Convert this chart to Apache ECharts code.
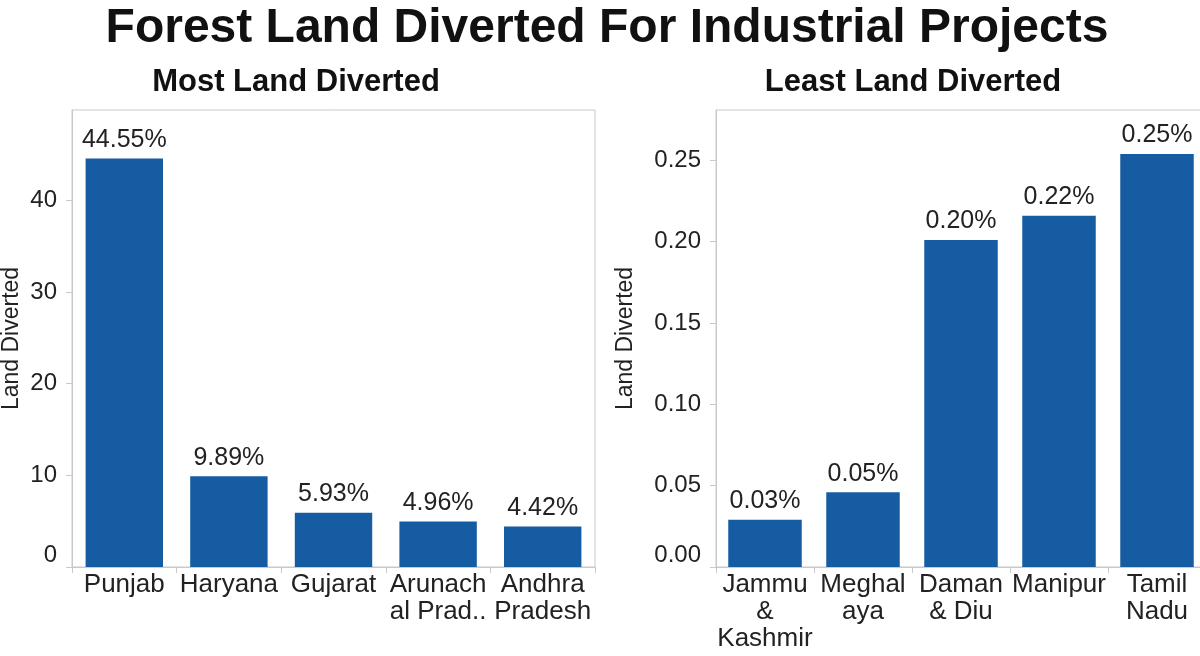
<!DOCTYPE html>
<html>
<head>
<meta charset="utf-8">
<script src="https://cdn.jsdelivr.net/npm/echarts@6/dist/echarts.min.js"></script>
<style>html,body{margin:0;padding:0;background:#fff;}#c{width:1200px;height:656px;}</style>
</head>
<body>
<div id="c"></div>
<script>
var mostCategories = ['Punjab', 'Haryana', 'Gujarat', 'Arunach\nal Prad..', 'Andhra\nPradesh'];
var mostValues = [44.55, 9.89, 5.93, 4.96, 4.42];
var mostTicks = [0, 10, 20, 30, 40];

var leastCategories = ['Jammu\n&\nKashmir', 'Meghal\naya', 'Daman\n& Diu', 'Manipur', 'Tamil\nNadu'];
var leastValues = [0.029, 0.046, 0.201, 0.216, 0.254];
var leastTicks = [0, 0.05, 0.10, 0.15, 0.20, 0.25];

var FONT = 'Liberation Sans, Arial, sans-serif';
var BAR = '#155ca2';
var GRAY = '#c9c9c9';
var TXT = '#222222';

var chart = echarts.init(document.getElementById('c'), null, {renderer: 'canvas'});

function xAxisCfg(idx, cats) {
  return {
    type: 'category', gridIndex: idx, data: cats,
    axisLine: {lineStyle: {color: GRAY, width: 1}},
    axisTick: {show: true, length: 6, lineStyle: {color: GRAY}},
    axisLabel: {color: TXT, fontSize: 26, fontFamily: FONT, lineHeight: 27, margin: 4, interval: 0},
    splitLine: {show: false}
  };
}
function yAxisCfg(idx, max, ticks, gap, fmt) {
  return {
    type: 'value', gridIndex: idx, min: 0, max: max,
    name: 'Land Diverted', nameLocation: 'middle', nameGap: gap,
    nameTextStyle: {color: TXT, fontSize: 23, fontFamily: FONT},
    axisLine: {show: true, lineStyle: {color: GRAY, width: 1}},
    axisTick: {show: true, length: 6, lineStyle: {color: GRAY}, customValues: ticks},
    axisLabel: {color: TXT, fontSize: 24, fontFamily: FONT, margin: 15, customValues: ticks,
      verticalAlignMinLabel: 'bottom', formatter: fmt},
    splitLine: {show: false}
  };
}

chart.setOption({
  animation: false,
  backgroundColor: '#ffffff',
  title: [
    {text: 'Forest Land Diverted For Industrial Projects', left: 602, textAlign: 'center', top: 0,
     textStyle: {fontSize: 48, fontWeight: 'bold', color: '#111', fontFamily: FONT}},
    {text: 'Most Land Diverted', left: 291, textAlign: 'center', top: 62,
     textStyle: {fontSize: 31, fontWeight: 'bold', color: '#111', fontFamily: FONT}},
    {text: 'Least Land Diverted', left: 908, textAlign: 'center', top: 62,
     textStyle: {fontSize: 31, fontWeight: 'bold', color: '#111', fontFamily: FONT}}
  ],
  grid: [
    {left: 72, top: 110, width: 523, height: 457, show: true, borderColor: GRAY, borderWidth: 1,
     containLabel: false, outerBoundsMode: 'none'},
    {left: 716, top: 110, width: 490, height: 457, show: true, borderColor: GRAY, borderWidth: 1,
     containLabel: false, outerBoundsMode: 'none'}
  ],
  xAxis: [xAxisCfg(0, mostCategories), xAxisCfg(1, leastCategories)],
  yAxis: [
    yAxisCfg(0, 49.85, mostTicks, 49, function (v) { return String(v); }),
    yAxisCfg(1, 0.281, leastTicks, 79, function (v) { return v.toFixed(2); })
  ],
  series: [
    {type: 'bar', xAxisIndex: 0, yAxisIndex: 0, data: mostValues, barWidth: '74%',
     itemStyle: {color: BAR},
     label: {show: true, position: 'top', distance: 6, color: TXT, fontSize: 25, fontFamily: FONT,
       formatter: function (p) { return p.value.toFixed(2) + '%'; }}},
    {type: 'bar', xAxisIndex: 1, yAxisIndex: 1, data: leastValues, barWidth: '75%',
     itemStyle: {color: BAR},
     label: {show: true, position: 'top', distance: 6, color: TXT, fontSize: 25, fontFamily: FONT,
       formatter: function (p) { return p.value.toFixed(2) + '%'; }}}
  ]
});
</script>
</body>
</html>
